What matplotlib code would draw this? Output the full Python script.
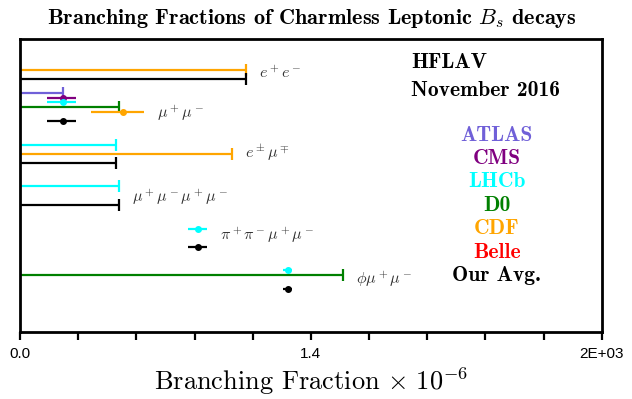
import numpy as np
import matplotlib.pyplot as plt

plt.rcParams['mathtext.fontset'] = 'cm'
plt.rcParams['axes.unicode_minus'] = False

# decay modes and their labels
decays = [r'$e^+e^-$', r'$\mu^+\mu^-$', r'$e^\pm\mu^\mp$',
          r'$\mu^+\mu^-\mu^+\mu^-$', r'$\pi^+\pi^-\mu^+\mu^-$', r'$\phi\mu^+\mu^-$']
decay_label_y = [34, 74, 114, 158, 196, 240]

# one entry per result
res_decay = [0, 0, 1, 1, 1, 1, 1, 1, 2, 2, 2, 3, 3, 4, 4, 5, 5, 5]
res_exp = ['CDF', 'Avg', 'ATLAS', 'CMS', 'LHCb', 'D0', 'CDF', 'Avg',
           'LHCb', 'CDF', 'Avg', 'LHCb', 'Avg', 'LHCb', 'Avg', 'LHCb', 'D0', 'Avg']
res_val = [1.088, 1.088, 0.208, 0.208, 0.208, 0.477, 0.494, 0.208,
           0.462, 1.022, 0.462, 0.478, 0.478, 0.858, 0.858, 1.289, 1.556, 1.289]
res_err_lo = [0, 0, 0, 0.079, 0.079, 0, 0.154, 0.079,
              0, 0, 0, 0, 0, 0.048, 0.048, 0.022, 0, 0.022]
res_err_hi = [0, 0, 0, 0.062, 0.062, 0, 0.104, 0.062,
              0, 0, 0, 0, 0, 0.044, 0.044, 0.022, 0, 0.022]
res_limit = [True, True, True, False, False, True, False, False,
             True, True, True, True, True, False, False, False, True, False]
res_y = [31, 40.3, 54.3, 59, 63.3, 68.3, 73, 82.3,
         105.7, 115, 124.3, 147, 165.7, 189.7, 208.3, 231, 236.3, 249.7]

experiments = ['ATLAS', 'CMS', 'LHCb', 'D0', 'CDF', 'Belle', 'Avg']
exp_names = ['ATLAS', 'CMS', 'LHCb', 'D0', 'CDF', 'Belle', 'Our Avg.']
exp_colors = ['#7060d8', '#800080', '#00ffff', '#008000', '#ffa500', '#ff0000', '#000000']
color_of = dict(zip(experiments, exp_colors))

xticks = np.linspace(0, 2.8, 11)
xticklabels = ['0.0', '', '', '', '', '1.4', '', '', '', '', '2E+03']

fig = plt.figure(figsize=(6.32, 3.99), dpi=100)
ax = fig.add_axes([20 / 632, 1 - 331.7 / 399, 581.7 / 632, 292.7 / 399])

lw = 1.6
for i in range(len(res_val)):
    c = color_of[res_exp[i]]
    if res_limit[i]:
        ax.plot([0, res_val[i]], [res_y[i], res_y[i]], color=c, lw=lw, solid_capstyle='butt')
        ax.plot(res_val[i], res_y[i], marker='|', ms=8, mew=lw, color=c)
    else:
        ax.errorbar(res_val[i], res_y[i], xerr=[[res_err_lo[i]], [res_err_hi[i]]],
                    fmt='o', ms=4, color=c, elinewidth=lw, capsize=0)

# decay labels right of the longest bar in each group
for d, lab in enumerate(decays):
    xmax = max(res_val[i] + res_err_hi[i] for i in range(len(res_val)) if res_decay[i] == d)
    ax.annotate(lab, (xmax, decay_label_y[d]), xytext=(9, 0), textcoords='offset points',
                ha='left', va='center', fontsize=11.5, color='#333333')

ax.text(0.673, 0.919, 'HFLAV', transform=ax.transAxes, family='cmb10',
        fontsize=15.5, ha='left', va='center')
ax.text(0.673, 0.823, 'November 2016', transform=ax.transAxes, family='cmb10',
        fontsize=15.5, ha='left', va='center')
for k, (name, c) in enumerate(zip(exp_names, exp_colors)):
    ax.text(0.8195, 0.672 - k * 0.08, name, transform=ax.transAxes, family='cmb10',
            fontsize=15.5, color=c, ha='center', va='center')

ax.set_xlim(0, 2.8)
ax.set_ylim(292.7, 0)
ax.set_yticks([])
ax.set_xticks(xticks)
ax.set_xticklabels(xticklabels, family='Liberation Sans', fontsize=11)
ax.tick_params(axis='x', direction='out', length=6, width=1.6, pad=5)
for s in ax.spines.values():
    s.set_linewidth(2)

ax.set_xlabel(r'Branching Fraction $\times\ 10^{-6}$', family='cmr10', fontsize=19, labelpad=3)
fig.text(312 / 632, 1 - 18 / 399, r'Branching Fractions of Charmless Leptonic $\boldsymbol{B_s}$ decays',
         family='cmb10', fontsize=16, ha='center', va='center')

fig.savefig('out.png', dpi=100)
